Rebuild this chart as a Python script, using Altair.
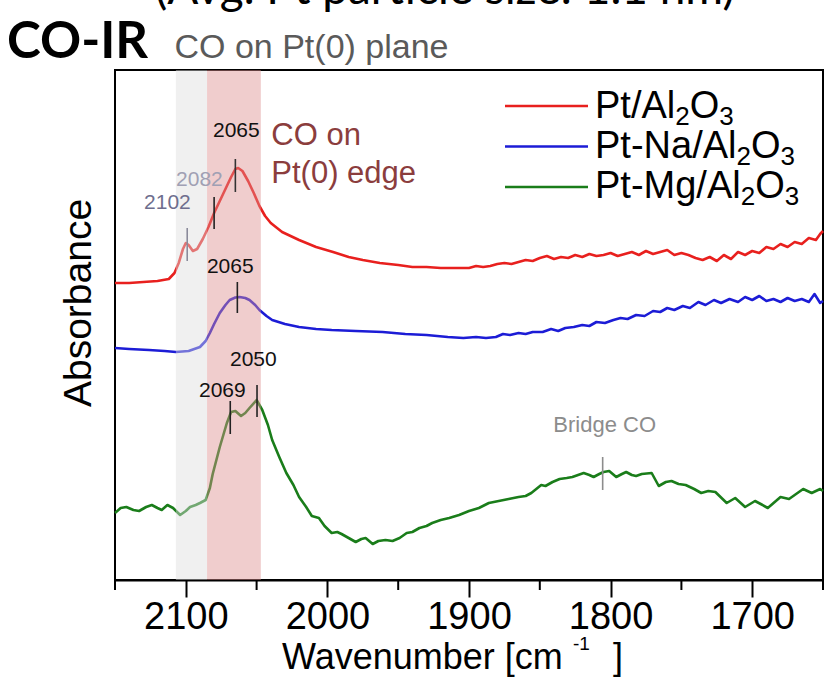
import altair as alt
import pandas as pd

FONT = "Liberation Sans"

# ---------------- data ----------------
series_names = ["Pt/Al2O3", "Pt-Na/Al2O3", "Pt-Mg/Al2O3"]
series_colors = ["#e8201e", "#1c1cd6", "#1a7d1a"]

red_wn = [2150, 2140, 2130, 2120, 2112, 2108, 2105, 2102, 2100, 2098, 2095, 2092, 2088, 2084, 2080,
          2076, 2072, 2068, 2065, 2063, 2060, 2056, 2052, 2048, 2044, 2040, 2032, 2020, 2008, 1996,
          1985, 1975, 1963, 1950, 1940, 1930, 1920, 1910, 1900, 1895, 1890, 1885, 1880, 1875, 1870,
          1865, 1860, 1855, 1850, 1845, 1840, 1835, 1830, 1825, 1820, 1815, 1810, 1805, 1800, 1795,
          1790, 1785, 1780, 1775, 1770, 1765, 1760, 1755, 1750, 1745, 1740, 1735, 1730, 1725, 1720,
          1715, 1710, 1705, 1700, 1695, 1690, 1685, 1680, 1675, 1670, 1665, 1660, 1655, 1652, 1650]
red_abs = [.297, .297, .298, .299, .301, .307, .317, .331, .337, .335, .329, .331, .341, .353, .367,
           .379, .391, .403, .411, .412, .409, .399, .387, .374, .364, .357, .348, .340, .333, .328,
           .323, .320, .317, .315, .313, .313, .312, .312, .312, .314, .313, .314, .316, .317, .316,
           .318, .320, .319, .322, .324, .321, .323, .322, .325, .323, .326, .324, .325, .327, .324,
           .326, .328, .325, .329, .326, .328, .330, .325, .327, .325, .322, .320, .323, .319, .325,
           .321, .328, .325, .329, .327, .333, .331, .336, .333, .338, .336, .342, .340, .346, .349]

blue_wn = [2150, 2140, 2126, 2115, 2107, 2098, 2090, 2086, 2083, 2080, 2076, 2072, 2069, 2065, 2062,
           2058, 2055, 2051, 2048, 2043, 2039, 2030, 2020, 2008, 1997, 1980, 1961, 1945, 1930, 1915,
           1904, 1895, 1888, 1881, 1876, 1871, 1865, 1860, 1855, 1848, 1842, 1837, 1832, 1826, 1820,
           1815, 1810, 1804, 1798, 1793, 1788, 1782, 1776, 1770, 1765, 1760, 1755, 1749, 1744, 1738,
           1733, 1727, 1722, 1716, 1710, 1705, 1700, 1695, 1690, 1685, 1680, 1675, 1670, 1665, 1660,
           1656, 1652, 1650]
blue_abs = [.232, .231, .230, .229, .228, .229, .233, .239, .247, .256, .267, .275, .280, .2825, .283,
            .282, .280, .275, .270, .264, .260, .256, .253, .251, .250, .249, .248, .246, .245, .243,
            .242, .243, .242, .243, .246, .245, .247, .246, .248, .248, .251, .249, .252, .253, .255,
            .254, .258, .257, .260, .262, .261, .265, .264, .269, .268, .272, .270, .274, .272, .278,
            .275, .280, .277, .281, .278, .283, .280, .284, .279, .281, .278, .282, .279, .281, .278,
            .286, .277, .279]

green_wn = [2150, 2146, 2142, 2137, 2133, 2128, 2124, 2120, 2117, 2113, 2109, 2104, 2100, 2097, 2093,
            2090, 2086, 2083, 2081, 2076, 2071, 2068, 2065, 2061, 2058, 2055, 2050, 2046, 2042, 2039,
            2034, 2029, 2024, 2020, 2015, 2011, 2006, 2002, 1997, 1993, 1990, 1985, 1980, 1976, 1973,
            1968, 1964, 1959, 1954, 1949, 1944, 1940, 1935, 1930, 1926, 1920, 1914, 1907, 1900, 1893,
            1886, 1879, 1872, 1865, 1860, 1856, 1849, 1846, 1841, 1836, 1831, 1827, 1823, 1819, 1815,
            1812, 1808, 1805, 1801, 1796, 1792, 1789, 1785, 1782, 1778, 1771, 1766, 1761, 1757, 1752,
            1747, 1741, 1736, 1731, 1726, 1718, 1712, 1705, 1698, 1694, 1689, 1680, 1674, 1669, 1664,
            1658, 1652, 1650]
green_abs = [.067, .072, .073, .070, .069, .073, .075, .072, .070, .075, .072, .065, .069, .073, .075,
             .077, .080, .092, .106, .133, .157, .168, .169, .164, .167, .172, .180, .170, .155, .140,
             .123, .107, .095, .083, .073, .064, .062, .054, .047, .048, .046, .042, .038, .041, .042,
             .036, .039, .040, .039, .042, .047, .048, .052, .054, .057, .060, .062, .065, .069, .072,
             .077, .079, .081, .083, .084, .087, .095, .094, .098, .101, .102, .103, .105, .107, .105,
             .103, .106, .108, .109, .103, .106, .108, .105, .104, .106, .107, .094, .098, .099, .096,
             .095, .091, .087, .089, .088, .077, .082, .073, .079, .076, .072, .083, .081, .086, .091,
             .087, .091, .089]

# shaded bands (wavenumber limits)
band_from = [2107, 2085]
band_to = [2085, 2047]
band_fill = ["#dddddd", "#de9090"]

# peak marker ticks
peak_wn = [2099, 2080, 2065, 2063.6, 2068.6, 2049.7, 1805.6]
peak_lo = [.319, .351, .388, .267, .146, .163, .090]
peak_hi = [.352, .383, .421, .298, .179, .195, .123]
peak_col = ["#8a8a9a", "#222222", "#333333", "#222222", "#222222", "#222222", "#8c8c8c"]

# peak number labels
lab_text = ["2102", "2082", "2065", "2065", "2069", "2050"]
lab_wn = [2113, 2090.4, 2064.3, 2068.6, 2074.2, 2052.3]
lab_abs = [.371, .394, .443, .307, .183, .214]
lab_col = ["#6e6e8e", "#a0a0b4", "#111111", "#111111", "#111111", "#111111"]

major_ticks = [2100, 2000, 1900, 1800, 1700]
minor_ticks = [2150, 2050, 1950, 1850, 1750, 1650]

legend_parts = [["Pt/Al", "2", "O", "3"], ["Pt-Na/Al", "2", "O", "3"], ["Pt-Mg/Al", "2", "O", "3"]]

# ---------------- tables ----------------
assert len(red_wn) == len(red_abs) and len(blue_wn) == len(blue_abs) and len(green_wn) == len(green_abs)
rows = []
for name, wns, ab in zip(series_names, [red_wn, blue_wn, green_wn], [red_abs, blue_abs, green_abs]):
    for w, a in zip(wns, ab):
        rows.append({"series": name, "wn": w, "a": a})
spectra = pd.DataFrame(rows)
bands = pd.DataFrame({"lo": band_from, "hi": band_to, "fill": band_fill})
peaks = pd.DataFrame({"wn": peak_wn, "a1": peak_lo, "a2": peak_hi, "col": peak_col})
labels = pd.DataFrame({"wn": lab_wn, "a": lab_abs, "t": lab_text, "col": lab_col})

W, H = 708, 510

xscale = alt.Scale(domain=[2150, 1650], zero=False, nice=False)
yscale = alt.Scale(domain=[0, 0.51], zero=False, nice=False)
xaxis = alt.Axis(values=major_ticks, title="", grid=False, format="d", labelFont=FONT,
                 labelFontSize=38, labelColor="black", tickSize=17, tickWidth=2,
                 tickColor="black", domainColor="black", domainWidth=2, labelPadding=1,
                 labelFlush=False)


def X(field="wn"):
    return alt.X(f"{field}:Q", scale=xscale, axis=xaxis)


def Y(field="a"):
    return alt.Y(f"{field}:Q", scale=yscale, axis=None)


lines = alt.Chart(spectra).mark_line(strokeWidth=2.6, strokeJoin="round").encode(
    x=X(), y=Y(),
    color=alt.Color("series:N", scale=alt.Scale(domain=series_names, range=series_colors), legend=None),
)

band_layer = alt.Chart(bands).mark_rect(opacity=0.45).encode(
    x=X("lo"), x2="hi", color=alt.Color("fill:N", scale=None)
)

minor = alt.Chart(pd.DataFrame({"wn": minor_ticks})).mark_rule(color="black", strokeWidth=2).encode(
    x=X(), y=alt.value(H), y2=alt.value(H + 10)
)

peak_layer = alt.Chart(peaks).mark_rule(strokeWidth=1.6).encode(
    x=X(), y=Y("a1"), y2="a2", color=alt.Color("col:N", scale=None)
)

label_layer = alt.Chart(labels).mark_text(font=FONT, fontSize=21, align="center", baseline="alphabetic").encode(
    x=X(), y=Y(), text="t:N", color=alt.Color("col:N", scale=None)
)

notes_edge = alt.Chart(pd.DataFrame({"wn": [2039.6, 2039.6], "a": [.435, .397], "t": ["CO on", "Pt(0) edge"]})).mark_text(
    font=FONT, fontSize=31, align="left", baseline="alphabetic", color="#8b3d3d"
).encode(x=X(), y=Y(), text="t:N")

note_plane = alt.Chart(pd.DataFrame({"wn": [2108], "a": [.522], "t": ["CO on Pt(0) plane"]})).mark_text(
    font=FONT, fontSize=34, align="left", baseline="alphabetic", color="#5a5a5a"
).encode(x=X(), y=Y(), text="t:N")

note_bridge = alt.Chart(pd.DataFrame({"wn": [1804.2], "a": [.148], "t": ["Bridge CO"]})).mark_text(
    font=FONT, fontSize=22, align="center", baseline="alphabetic", color="#8c8c8c"
).encode(x=X(), y=Y(), text="t:N")


def txt(t, x, y, size, color="black", font=FONT, weight="normal", align="left", angle=0):
    return alt.Chart(pd.DataFrame({"t": [t]})).mark_text(
        font=font, fontSize=size, fontWeight=weight, align=align, baseline="alphabetic",
        color=color, angle=angle
    ).encode(x=alt.value(x), y=alt.value(y), text="t:N")


# axis titles and headings (positions relative to the plot's top-left corner)
extras = [
    txt("Absorbance", -24, 233, 39, angle=270, align="center"),
    txt("Wavenumber [cm", 167, 599, 36),
    txt("-1", 458, 580, 19),
    txt("]", 498, 599, 36),
    txt("CO-IR", -108, -12, 51, font="Lato", weight="bold"),
    txt("(Avg. Pt particle size: 1.1 nm)", 40, -66, 46, font="Lato"),
]

# manual legend with subscripts
ARIAL = {"P": .667, "t": .278, "/": .278, "A": .667, "l": .222, "-": .333, "N": .722, "a": .556,
         "M": .833, "g": .556, "O": .778, "2": .556, "3": .556}
MAIN, SUB = 38, 26


def tw(s, size):
    return sum(ARIAL.get(c, .556) for c in s) * size


legend_layers = []
for i, (parts, col) in enumerate(zip(legend_parts, series_colors)):
    ly = 36 + 40.5 * i
    by = 48 + 40 * i
    legend_layers.append(
        alt.Chart(pd.DataFrame({"s": [series_names[i]]})).mark_rule(color=col, strokeWidth=2.5).encode(
            x=alt.value(390), x2=alt.value(473), y=alt.value(ly))
    )
    x = 480.0
    for j, p in enumerate(parts):
        sub = j % 2 == 1
        size = SUB if sub else MAIN
        legend_layers.append(txt(p, x, by + (7 if sub else 0), size))
        x += tw(p, size)

chart = alt.layer(
    lines, band_layer, minor, peak_layer, label_layer, notes_edge, note_plane, note_bridge,
    *extras, *legend_layers
).properties(
    width=W, height=H,
    padding={"left": 115, "top": 70, "right": 10, "bottom": 108},
    autosize=alt.AutoSizeParams(type="none"),
    background="white",
).configure_view(stroke="black", strokeWidth=2)

chart.save("out.html", embed_options={"renderer": "svg", "actions": False})
